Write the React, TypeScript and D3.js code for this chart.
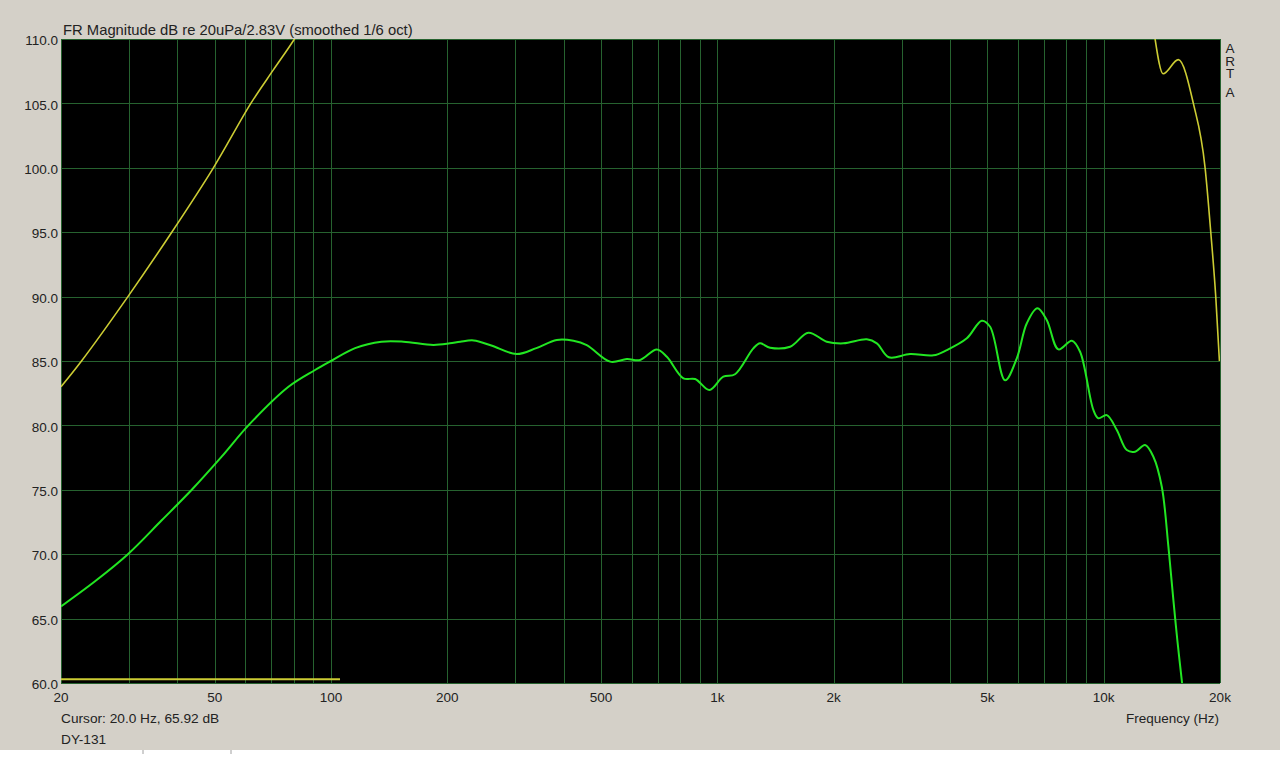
import React, { useRef, useEffect } from 'react';
import * as d3 from 'd3';

// SPL response (green)
const splFreq = [20, 24.5, 29.8, 36.5, 43.6, 52.1, 61.1, 77.6, 90.9, 100, 115.4, 135, 154, 184, 203, 216, 234, 260, 302, 340, 384, 424, 459, 528, 583, 631, 697, 740, 817, 876, 954, 1036, 1111, 1239, 1290, 1369, 1543, 1720, 1919, 2120, 2437, 2587, 2778, 3153, 3624, 3926, 4423, 4835, 5082, 5556, 5957, 6324, 6735, 7121, 7636, 8270, 8687, 9403, 9688, 10186, 10813, 11475, 12058, 12795, 13445, 14137, 14703, 15149, 15513, 15955, 16300];
const splDb = [65.95, 67.9, 70.0, 72.65, 75.0, 77.57, 80.0, 83.0, 84.3, 85.0, 86.0, 86.5, 86.5, 86.25, 86.37, 86.5, 86.6, 86.2, 85.54, 86.0, 86.63, 86.57, 86.24, 84.95, 85.15, 85.08, 85.9, 85.33, 83.65, 83.6, 82.75, 83.78, 83.97, 85.98, 86.37, 86.03, 86.11, 87.2, 86.5, 86.37, 86.68, 86.37, 85.29, 85.54, 85.44, 85.85, 86.76, 88.13, 87.66, 83.5, 85.21, 87.93, 89.09, 88.18, 85.9, 86.57, 85.72, 81.2, 80.55, 80.8, 79.64, 78.09, 77.96, 78.48, 77.57, 75.24, 70.6, 66.44, 63.3, 60.0, 57.5];

// yellow trace, low end
const yLowFreq = [20, 22.6, 29.8, 38.7, 49.6, 62.0, 70.9, 80.4, 90];
const yLowDb = [83.0, 85.0, 90.0, 95.0, 100.0, 105.0, 107.6, 110.0, 112.5];

// yellow trace, high end
const yHighFreq = [13200, 13600, 14250, 15600, 17063, 18300, 18930, 19500, 19930];
const yHighDb = [113, 109.9, 107.3, 108.4, 105.0, 100.0, 95.0, 90.0, 85.0];

// flat yellow line near the floor
const yFloorFreq = [20, 105.5];
const yFloorDb = [60.3, 60.3];

const gridFreqs = [20, 30, 40, 50, 60, 70, 80, 90, 100, 200, 300, 400, 500, 600, 700, 800, 900, 1000, 2000, 3000, 4000, 5000, 6000, 7000, 8000, 9000, 10000, 20000];
const xTickFreqs = [20, 50, 100, 200, 500, 1000, 2000, 5000, 10000, 20000];
const xTickLabels = ['20', '50', '100', '200', '500', '1k', '2k', '5k', '10k', '20k'];
const yTicks = [60, 65, 70, 75, 80, 85, 90, 95, 100, 105, 110];

const App = () => {
  const svgRef = useRef(null);

  useEffect(() => {
    const width = 1280;
    const height = 775;
    const margin = { top: 39, left: 61, right: 60, bottom: 92 };
    const plotW = width - margin.left - margin.right;
    const plotH = height - margin.top - margin.bottom;
    const font = '"Liberation Sans", Arial, sans-serif';

    const svg = d3.select(svgRef.current);
    svg.selectAll('*').remove();
    svg.attr('width', width).attr('height', height);

    // window background
    svg.append('rect').attr('width', width).attr('height', 750).attr('fill', '#d4d0c8');
    svg.append('rect').attr('y', 750).attr('width', width).attr('height', 25).attr('fill', '#ffffff');
    [143, 231].forEach(x => {
      svg.append('line').attr('x1', x).attr('x2', x).attr('y1', 750).attr('y2', 754)
        .attr('stroke', '#a0a0a0').attr('stroke-width', 1);
    });

    const x = d3.scaleLog().domain([20, 20000]).range([0, plotW]);
    const y = d3.scaleLinear().domain([60, 110]).range([plotH, 0]);

    const g = svg.append('g').attr('transform', `translate(${margin.left},${margin.top})`);

    g.append('rect').attr('width', plotW).attr('height', plotH).attr('fill', '#000');

    svg.append('defs').append('clipPath').attr('id', 'plotClip')
      .append('rect').attr('width', plotW).attr('height', plotH);

    // grid
    g.selectAll('.vgrid')
      .data(gridFreqs)
      .enter()
      .append('line')
      .attr('x1', d => Math.round(x(d)) + 0.5)
      .attr('x2', d => Math.round(x(d)) + 0.5)
      .attr('y1', 0)
      .attr('y2', plotH)
      .attr('stroke', '#26622f')
      .attr('stroke-width', 1);

    g.selectAll('.hgrid')
      .data(yTicks)
      .enter()
      .append('line')
      .attr('x1', 0)
      .attr('x2', plotW)
      .attr('y1', d => Math.round(y(d)) + 0.5)
      .attr('y2', d => Math.round(y(d)) + 0.5)
      .attr('stroke', '#26622f')
      .attr('stroke-width', 1);

    const smooth = d3.line()
      .x(d => x(d[0]))
      .y(d => y(d[1]))
      .curve(d3.curveCatmullRom.alpha(0.5));

    const mono = d3.line()
      .x(d => x(d[0]))
      .y(d => y(d[1]))
      .curve(d3.curveMonotoneX);

    const traces = g.append('g').attr('clip-path', 'url(#plotClip)');

    const yellow = '#cccc33';
    traces.append('path')
      .datum(yLowFreq.map((f, i) => [f, yLowDb[i]]))
      .attr('d', smooth)
      .attr('fill', 'none')
      .attr('stroke', yellow)
      .attr('stroke-width', 1.6);

    traces.append('path')
      .datum(yHighFreq.map((f, i) => [f, yHighDb[i]]))
      .attr('d', mono)
      .attr('fill', 'none')
      .attr('stroke', yellow)
      .attr('stroke-width', 1.6);

    traces.append('path')
      .datum(yFloorFreq.map((f, i) => [f, yFloorDb[i]]))
      .attr('d', d3.line().x(d => x(d[0])).y(d => y(d[1])))
      .attr('fill', 'none')
      .attr('stroke', yellow)
      .attr('stroke-width', 2);

    traces.append('path')
      .datum(splFreq.map((f, i) => [f, splDb[i]]))
      .attr('d', smooth)
      .attr('fill', 'none')
      .attr('stroke', '#22e622')
      .attr('stroke-width', 2);

    // y labels
    g.selectAll('.ylabel')
      .data(yTicks)
      .enter()
      .append('text')
      .attr('x', -3)
      .attr('y', d => y(d) + 1.5)
      .attr('dy', '0.35em')
      .attr('text-anchor', 'end')
      .attr('font-family', font)
      .attr('font-size', '13.5px')
      .attr('fill', '#222')
      .text(d => d.toFixed(1));

    // x labels
    g.selectAll('.xlabel')
      .data(xTickFreqs)
      .enter()
      .append('text')
      .attr('x', d => x(d))
      .attr('y', plotH + 19)
      .attr('text-anchor', 'middle')
      .attr('font-family', font)
      .attr('font-size', '13.5px')
      .attr('fill', '#222')
      .text((d, i) => xTickLabels[i]);

    // texts
    svg.append('text').attr('x', 63).attr('y', 35)
      .attr('font-family', font).attr('font-size', '14.8px').attr('fill', '#222')
      .text('FR Magnitude dB re 20uPa/2.83V (smoothed 1/6 oct)');

    svg.append('text').attr('x', 61).attr('y', 723)
      .attr('font-family', font).attr('font-size', '13.7px').attr('fill', '#222')
      .text('Cursor: 20.0 Hz, 65.92 dB');

    svg.append('text').attr('x', 61).attr('y', 744)
      .attr('font-family', font).attr('font-size', '13.7px').attr('fill', '#222')
      .text('DY-131');

    svg.append('text').attr('x', 1219).attr('y', 723)
      .attr('text-anchor', 'end')
      .attr('font-family', font).attr('font-size', '13.5px').attr('fill', '#222')
      .text('Frequency (Hz)');

    const artaY = [53, 65.5, 78, 97];
    ['A', 'R', 'T', 'A'].forEach((c, i) => {
      svg.append('text').attr('x', 1230).attr('y', artaY[i])
        .attr('text-anchor', 'middle')
        .attr('font-family', font).attr('font-size', '13.5px').attr('fill', '#222')
        .text(c);
    });
  }, []);

  return (
    <div style={{ position: 'absolute', left: 0, top: 0 }}>
      <svg ref={svgRef} style={{ display: 'block' }} />
    </div>
  );
};

export default App;
